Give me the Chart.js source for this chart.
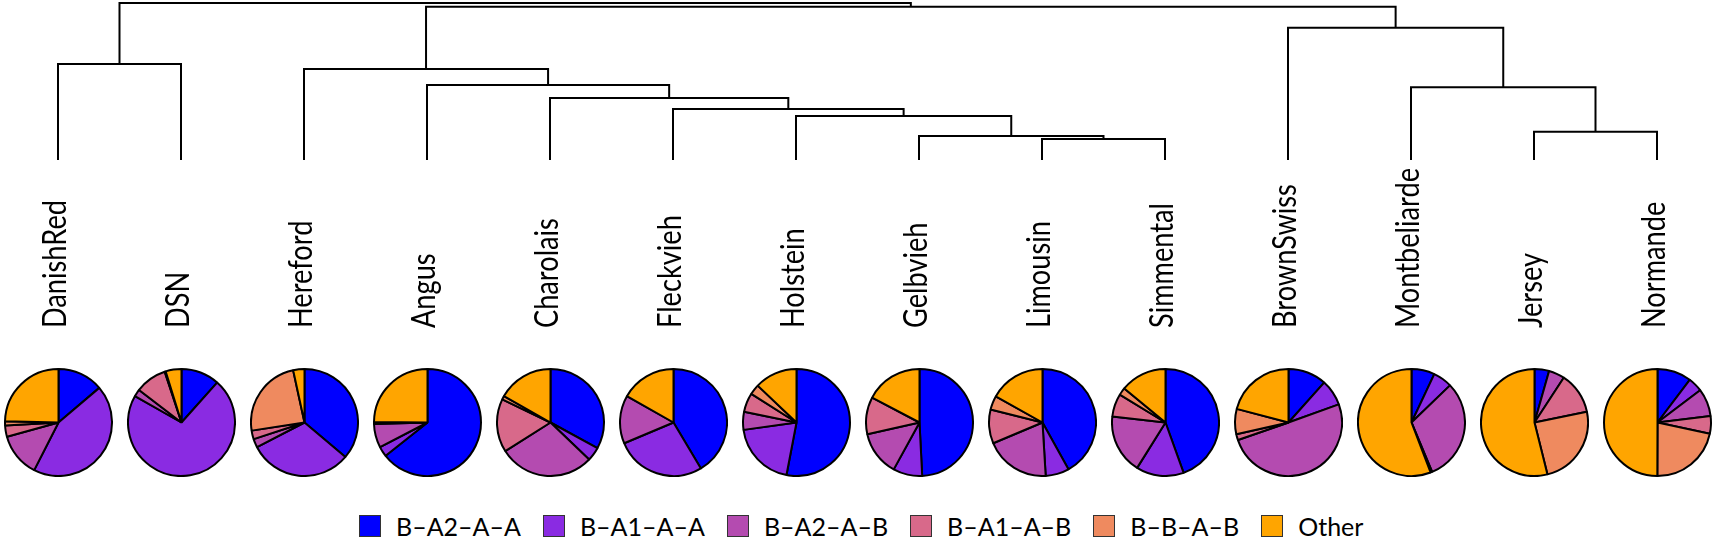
<!DOCTYPE html>
<html>
<head>
<meta charset="utf-8">
<script src="https://cdn.jsdelivr.net/npm/chart.js@4/dist/chart.umd.min.js"></script>
<style>
  body { margin: 0; background: #fff; }
  #wrap { position: relative; width: 1713px; height: 540px; overflow: hidden; font-family: Lato, "Open Sans", sans-serif; }
  #tree { position: absolute; left: 0; top: 0; }
  .pie { position: absolute; top: 368px; }
  #legend { position: absolute; top: 511px; left: 359px; display: flex; align-items: center; font-size: 25px; color: #000; }
  #legend .item { display: flex; align-items: center; margin-right: 22px; }
  #legend .box { width: 20px; height: 20px; border: 1px solid #333; margin-right: 15px; }
</style>
</head>
<body>
<div id="wrap">
  <canvas id="tree" width="1713" height="340"></canvas>
  <div id="pies"></div>
  <div id="legend"></div>
</div>
<script>
// breeds in dendrogram leaf order
const breeds = ['DanishRed', 'DSN', 'Hereford', 'Angus', 'Charolais', 'Fleckvieh', 'Holstein',
  'Gelbvieh', 'Limousin', 'Simmental', 'BrownSwiss', 'Montbeliarde', 'Jersey', 'Normande'];

const haplotypes = ['B\u2013A2\u2013A\u2013A', 'B\u2013A1\u2013A\u2013A', 'B\u2013A2\u2013A\u2013B',
  'B\u2013A1\u2013A\u2013B', 'B\u2013B\u2013A\u2013B', 'Other'];
const hapColors = ['#0000FF', '#8A2BE2', '#B44BB0', '#D8698A', '#EF8A5F', '#FFA500'];

// haplotype frequency (%) per breed, same order as breeds
const bA2AA = [13.8, 11.6, 36.1, 64.5, 33.0, 41.4, 53.0, 49.2, 41.9, 44.5, 11.6, 7.0, 4.4, 10.3];
const bA1AA = [43.7, 71.7, 31.2, 3.1, 4.2, 27.2, 19.8, 8.8, 7.1, 14.4, 7.9, 5.8, 0, 4.4];
const bA2AB = [13.2, 2.2, 2.6, 7.2, 28.9, 14.5, 5.4, 13.5, 19.6, 17.9, 50.2, 30.9, 4.8, 8.4];
const bA1AB = [3.4, 9.5, 2.6, 0.3, 16.1, 0, 5.8, 11.2, 10.2, 6.9, 1.8, 0.5, 12.6, 5.3];
const bBAB = [1.3, 0.3, 24.0, 0.3, 1.1, 0, 3.1, 0, 4.2, 2.3, 7.6, 0, 24.3, 21.7];
const other = [24.6, 4.8, 3.4, 24.9, 16.8, 16.8, 12.9, 17.3, 16.9, 14.0, 20.9, 55.8, 53.9, 50.0];
const series = [bA2AA, bA1AA, bA2AB, bA1AB, bBAB, other];

// dendrogram merges (hclust style: negative = leaf index+1, positive = earlier merge)
const mergeA = [-9, -8, -7, -6, -5, -4, -3, -13, -12, -11, -1, 7, 11];
const mergeB = [-10, 1, 2, 3, 4, 5, 6, -14, 8, 9, -2, 10, 12];
const mergeHeight = [0.134, 0.153, 0.280, 0.325, 0.395, 0.478, 0.580, 0.180, 0.463, 0.843, 0.611, 0.976, 1.0];

// build the tree segments from the merges
const nodeX = [], nodeH = [];
function pos(ref) {
  if (ref < 0) return { x: -ref - 1, h: 0 };
  return { x: nodeX[ref - 1], h: nodeH[ref - 1] };
}
const treeSets = [];
mergeA.forEach((a, i) => {
  const l = pos(a), r = pos(mergeB[i]);
  const h = mergeHeight[i];
  nodeX.push((l.x + r.x) / 2);
  nodeH.push(h);
  treeSets.push({
    data: [{ x: l.x, y: l.h }, { x: l.x, y: h }, { x: r.x, y: h }, { x: r.x, y: r.h }],
    showLine: true, borderColor: '#000', borderWidth: 2, pointRadius: 0, tension: 0, clip: false
  });
});

const leafLabels = {
  id: 'leafLabels',
  afterDraw(chart) {
    const ctx = chart.ctx;
    const xs = chart.scales.x;
    ctx.save();
    ctx.fillStyle = '#000';
    ctx.font = '32px Lato, "Open Sans", sans-serif';
    ctx.textAlign = 'left';
    ctx.textBaseline = 'middle';
    breeds.forEach((b, i) => {
      ctx.save();
      ctx.translate(xs.getPixelForValue(i) - 2, 328);
      ctx.rotate(-Math.PI / 2);
      ctx.scale(0.85, 1);
      ctx.fillText(b, 0, 0);
      ctx.restore();
    });
    ctx.restore();
  }
};

new Chart(document.getElementById('tree'), {
  type: 'scatter',
  data: { datasets: treeSets },
  options: {
    responsive: false,
    animation: false,
    layout: { padding: { left: 58, right: 56, top: 3, bottom: 180 } },
    scales: {
      x: { type: 'linear', min: 0, max: breeds.length - 1, display: false },
      y: { min: 0, max: 1, display: false }
    },
    plugins: { legend: { display: false }, tooltip: { enabled: false } }
  },
  plugins: [leafLabels]
});

// one pie per breed, centred under its leaf
const pieBox = document.getElementById('pies');
breeds.forEach((b, i) => {
  const c = document.createElement('canvas');
  c.width = 109; c.height = 109;
  c.className = 'pie';
  c.style.left = (58 + i * 123 - 54.5) + 'px';
  pieBox.appendChild(c);
  new Chart(c, {
    type: 'pie',
    data: {
      labels: haplotypes,
      datasets: [{
        data: series.map(s => s[i]),
        backgroundColor: hapColors,
        borderColor: '#000',
        borderWidth: 2
      }]
    },
    options: {
      responsive: false,
      animation: false,
      plugins: { legend: { display: false }, tooltip: { enabled: false } }
    }
  });
});

const legend = document.getElementById('legend');
haplotypes.forEach((h, i) => {
  legend.innerHTML += `<div class="item"><div class="box" style="background:${hapColors[i]}"></div><span>${h}</span></div>`;
});
</script>
</body>
</html>
